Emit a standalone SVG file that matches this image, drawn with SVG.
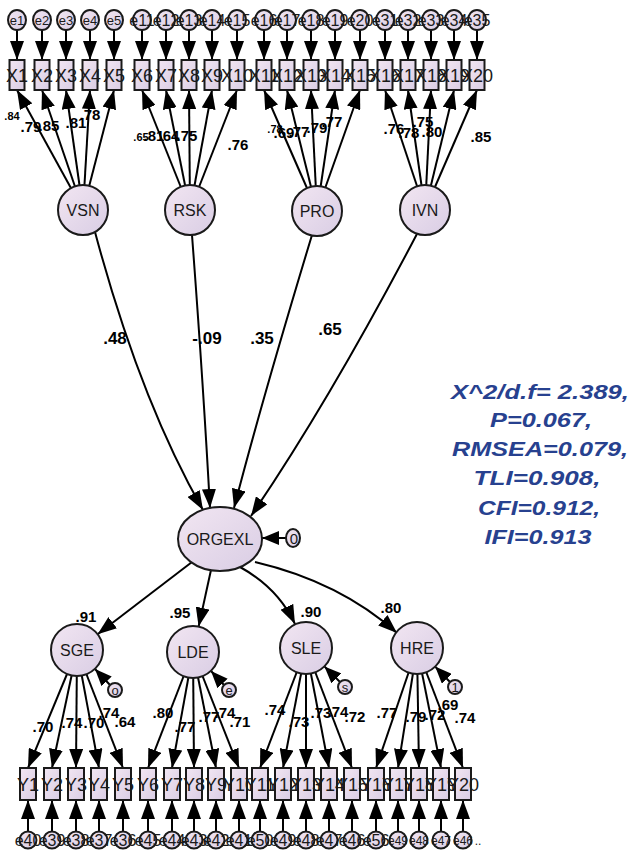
<svg xmlns="http://www.w3.org/2000/svg" width="630" height="851" viewBox="0 0 630 851">
<defs>
<linearGradient id="g" x1="0" y1="0" x2="1" y2="1">
<stop offset="0" stop-color="#f2e6f2"/>
<stop offset="1" stop-color="#d9cde4"/>
</linearGradient>
<marker id="ah" markerUnits="userSpaceOnUse" markerWidth="20" markerHeight="14" refX="19" refY="7" orient="auto">
<path d="M0,0 L19,7 L0,14 z" fill="#000"/>
</marker>
<marker id="as" markerUnits="userSpaceOnUse" markerWidth="18" markerHeight="14" refX="17" refY="7" orient="auto">
<path d="M0,0 L17,7 L0,14 z" fill="#000"/>
</marker>
</defs>
<style>
.c line,.c path{stroke:#000;stroke-width:2;fill:none;marker-end:url(#ah)}
.c .r{marker-end:url(#as)}
.n{fill:url(#g);stroke:#1a1a1a;stroke-width:2}
.t{font-family:"Liberation Sans",Arial,sans-serif;fill:#1a1a1a;text-anchor:middle}
.bx{font-size:18px}
.lat{font-size:16px}
.er{font-size:13px}
.eb{font-size:16px}
.ld{font-family:"Liberation Sans",Arial,sans-serif;font-weight:bold;font-size:15px;fill:#000;text-anchor:middle}
.sm{font-size:11px}
.pl{font-size:17px}
.fit{font-family:"Liberation Sans",Arial,sans-serif;font-weight:bold;font-style:italic;font-size:21px;fill:#27418f;text-anchor:middle}
</style>

<g id="connectors" class="c">
<line x1="17" y1="30" x2="17" y2="60"/><line x1="42" y1="30" x2="42" y2="60"/><line x1="66" y1="30" x2="66" y2="60"/><line x1="90" y1="30" x2="90" y2="60"/><line x1="114" y1="30" x2="114" y2="60"/>
<line x1="142" y1="30" x2="142" y2="60"/><line x1="166" y1="30" x2="166" y2="60"/><line x1="189" y1="30" x2="189" y2="60"/><line x1="212" y1="30" x2="212" y2="60"/><line x1="237" y1="30" x2="237" y2="60"/>
<line x1="264" y1="30" x2="264" y2="60"/><line x1="287" y1="30" x2="287" y2="60"/><line x1="311" y1="30" x2="311" y2="60"/><line x1="335" y1="30" x2="335" y2="60"/><line x1="360" y1="30" x2="360" y2="60"/>
<line x1="385" y1="30" x2="385" y2="60"/><line x1="408" y1="30" x2="408" y2="60"/><line x1="431" y1="30" x2="431" y2="60"/><line x1="454" y1="30" x2="454" y2="60"/><line x1="477" y1="30" x2="477" y2="60"/>
<line x1="83" y1="210" x2="17" y2="90"/><line x1="83" y1="210" x2="42" y2="90"/><line x1="83" y1="210" x2="66" y2="90"/><line x1="83" y1="210" x2="90" y2="90"/><line x1="83" y1="210" x2="114" y2="90"/>
<line x1="190" y1="210" x2="142" y2="90"/><line x1="190" y1="210" x2="166" y2="90"/><line x1="190" y1="210" x2="189" y2="90"/><line x1="190" y1="210" x2="212" y2="90"/><line x1="190" y1="210" x2="237" y2="90"/>
<line x1="317" y1="211" x2="264" y2="90"/><line x1="317" y1="211" x2="287" y2="90"/><line x1="317" y1="211" x2="311" y2="90"/><line x1="317" y1="211" x2="335" y2="90"/><line x1="317" y1="211" x2="360" y2="90"/>
<line x1="425" y1="210" x2="385" y2="90"/><line x1="425" y1="210" x2="408" y2="90"/><line x1="425" y1="210" x2="431" y2="90"/><line x1="425" y1="210" x2="454" y2="90"/><line x1="425" y1="210" x2="477" y2="90"/>
<path d="M95,232 Q140,400 203,510"/>
<path d="M192,235 Q203,380 210,508"/>
<path d="M312,235 Q262,400 234,508"/>
<path d="M418,232 Q330,400 251,516"/>
<line class="r" x1="286" y1="538" x2="262" y2="538"/>
<line x1="192" y1="562" x2="97.6" y2="634.2"/>
<line x1="211" y1="570" x2="198.6" y2="626.6"/>
<path d="M240,567 Q278,588 295,624"/>
<path d="M255,562 Q340,582 397,633"/>
<line class="r" x1="110" y1="685" x2="95" y2="669"/>
<line class="r" x1="224" y1="685" x2="211" y2="671"/>
<line class="r" x1="340" y1="682" x2="324.4" y2="666.4"/>
<line class="r" x1="450" y1="682" x2="435.1" y2="666.6"/>
<line x1="77" y1="650" x2="28" y2="768"/><line x1="77" y1="650" x2="52" y2="768"/><line x1="77" y1="650" x2="76" y2="768"/><line x1="77" y1="650" x2="99" y2="768"/><line x1="77" y1="650" x2="123" y2="768"/>
<line x1="193" y1="652" x2="148" y2="768"/><line x1="193" y1="652" x2="172" y2="768"/><line x1="193" y1="652" x2="194" y2="768"/><line x1="193" y1="652" x2="216" y2="768"/><line x1="193" y1="652" x2="239" y2="768"/>
<line x1="306" y1="648" x2="260" y2="768"/><line x1="306" y1="648" x2="283" y2="768"/><line x1="306" y1="648" x2="306" y2="768"/><line x1="306" y1="648" x2="329" y2="768"/><line x1="306" y1="648" x2="352" y2="768"/>
<line x1="417" y1="648" x2="376" y2="768"/><line x1="417" y1="648" x2="398" y2="768"/><line x1="417" y1="648" x2="419" y2="768"/><line x1="417" y1="648" x2="441" y2="768"/><line x1="417" y1="648" x2="463" y2="768"/>
<line x1="28" y1="831" x2="28" y2="800"/><line x1="52" y1="831" x2="52" y2="800"/><line x1="76" y1="831" x2="76" y2="800"/><line x1="99" y1="831" x2="99" y2="800"/><line x1="123" y1="831" x2="123" y2="800"/>
<line x1="148" y1="831" x2="148" y2="800"/><line x1="172" y1="831" x2="172" y2="800"/><line x1="194" y1="831" x2="194" y2="800"/><line x1="216" y1="831" x2="216" y2="800"/><line x1="239" y1="831" x2="239" y2="800"/>
<line x1="260" y1="831" x2="260" y2="800"/><line x1="283" y1="831" x2="283" y2="800"/><line x1="306" y1="831" x2="306" y2="800"/><line x1="329" y1="831" x2="329" y2="800"/><line x1="352" y1="831" x2="352" y2="800"/>
<line x1="376" y1="831" x2="376" y2="800"/><line x1="398" y1="831" x2="398" y2="800"/><line x1="419" y1="831" x2="419" y2="800"/><line x1="441" y1="831" x2="441" y2="800"/><line x1="463" y1="831" x2="463" y2="800"/>
</g>

<g id="loadings">
<text class="ld sm" x="12" y="120">.84</text>
<text class="ld" x="31" y="132">.79</text>
<text class="ld" x="49" y="131">.85</text>
<text class="ld" x="76" y="128">.81</text>
<text class="ld" x="90" y="120">.78</text>
<text class="ld sm" x="141" y="141">.65</text>
<text class="ld" x="154" y="141">.81</text>
<text class="ld" x="169" y="141">.64</text>
<text class="ld" x="187" y="141">.75</text>
<text class="ld" x="238" y="150">.76</text>
<text class="ld sm" x="275" y="133">.78</text>
<text class="ld" x="284" y="138">.69</text>
<text class="ld" x="299" y="137">.77</text>
<text class="ld" x="317" y="133">.79</text>
<text class="ld" x="332" y="127">.77</text>
<text class="ld" x="394" y="134">.76</text>
<text class="ld" x="409" y="138">.78</text>
<text class="ld" x="423" y="127">.75</text>
<text class="ld" x="432" y="137">.80</text>
<text class="ld" x="481" y="142">.85</text>
<text class="ld pl" x="115" y="344">.48</text>
<text class="ld pl" x="207" y="344">-.09</text>
<text class="ld pl" x="262" y="344">.35</text>
<text class="ld pl" x="330" y="335">.65</text>
<text class="ld" x="86" y="622">.91</text>
<text class="ld" x="180" y="618">.95</text>
<text class="ld" x="311" y="617">.90</text>
<text class="ld" x="391" y="613">.80</text>
<text class="ld" x="43" y="732">.70</text>
<text class="ld" x="72" y="728">.74</text>
<text class="ld" x="94" y="728">.70</text>
<text class="ld" x="109" y="718">.74</text>
<text class="ld" x="125" y="727">.64</text>
<text class="ld" x="163" y="718">.80</text>
<text class="ld" x="185" y="732">.77</text>
<text class="ld" x="209" y="722">.77</text>
<text class="ld" x="225" y="718">.74</text>
<text class="ld" x="240" y="727">.71</text>
<text class="ld" x="275" y="715">.74</text>
<text class="ld" x="299" y="727">.73</text>
<text class="ld" x="321" y="718">.73</text>
<text class="ld" x="338" y="717">.74</text>
<text class="ld" x="355" y="722">.72</text>
<text class="ld" x="387" y="718">.77</text>
<text class="ld" x="416" y="722">.79</text>
<text class="ld" x="435" y="720">.72</text>
<text class="ld" x="448" y="710">.69</text>
<text class="ld" x="465" y="723">.74</text>
</g>

<g id="errors-top">
<ellipse class="n" cx="17" cy="20" rx="9" ry="10"/><text class="t er" x="17" y="25">e1</text>
<ellipse class="n" cx="42" cy="20" rx="9" ry="10"/><text class="t er" x="42" y="25">e2</text>
<ellipse class="n" cx="66" cy="20" rx="9" ry="10"/><text class="t er" x="66" y="25">e3</text>
<ellipse class="n" cx="90" cy="20" rx="9" ry="10"/><text class="t er" x="90" y="25">e4</text>
<ellipse class="n" cx="114" cy="20" rx="9" ry="10"/><text class="t er" x="114" y="25">e5</text>
<ellipse class="n" cx="142" cy="20" rx="9" ry="10"/><text class="t eb" x="142" y="26">e11</text>
<ellipse class="n" cx="166" cy="20" rx="9" ry="10"/><text class="t eb" x="166" y="26">e12</text>
<ellipse class="n" cx="189" cy="20" rx="9" ry="10"/><text class="t eb" x="189" y="26">e13</text>
<ellipse class="n" cx="212" cy="20" rx="9" ry="10"/><text class="t eb" x="212" y="26">e14</text>
<ellipse class="n" cx="237" cy="20" rx="9" ry="10"/><text class="t eb" x="237" y="26">e15</text>
<ellipse class="n" cx="264" cy="20" rx="9" ry="10"/><text class="t eb" x="264" y="26">e16</text>
<ellipse class="n" cx="287" cy="20" rx="9" ry="10"/><text class="t eb" x="287" y="26">e17</text>
<ellipse class="n" cx="311" cy="20" rx="9" ry="10"/><text class="t eb" x="311" y="26">e18</text>
<ellipse class="n" cx="335" cy="20" rx="9" ry="10"/><text class="t eb" x="335" y="26">e19</text>
<ellipse class="n" cx="360" cy="20" rx="9" ry="10"/><text class="t eb" x="360" y="26">e20</text>
<ellipse class="n" cx="385" cy="20" rx="9" ry="10"/><text class="t eb" x="385" y="26">e31</text>
<ellipse class="n" cx="408" cy="20" rx="9" ry="10"/><text class="t eb" x="408" y="26">e32</text>
<ellipse class="n" cx="431" cy="20" rx="9" ry="10"/><text class="t eb" x="431" y="26">e33</text>
<ellipse class="n" cx="454" cy="20" rx="9" ry="10"/><text class="t eb" x="454" y="26">e34</text>
<ellipse class="n" cx="477" cy="20" rx="9" ry="10"/><text class="t eb" x="477" y="26">e35</text>
</g>

<g id="indicators-x">
<rect class="n" x="9.5" y="60" width="15" height="30"/><text class="t bx" x="17" y="82">X1</text>
<rect class="n" x="34.5" y="60" width="15" height="30"/><text class="t bx" x="42" y="82">X2</text>
<rect class="n" x="58.5" y="60" width="15" height="30"/><text class="t bx" x="66" y="82">X3</text>
<rect class="n" x="82.5" y="60" width="15" height="30"/><text class="t bx" x="90" y="82">X4</text>
<rect class="n" x="106.5" y="60" width="15" height="30"/><text class="t bx" x="114" y="82">X5</text>
<rect class="n" x="134.5" y="60" width="15" height="30"/><text class="t bx" x="142" y="82">X6</text>
<rect class="n" x="158.5" y="60" width="15" height="30"/><text class="t bx" x="166" y="82">X7</text>
<rect class="n" x="181.5" y="60" width="15" height="30"/><text class="t bx" x="189" y="82">X8</text>
<rect class="n" x="204.5" y="60" width="15" height="30"/><text class="t bx" x="212" y="82">X9</text>
<rect class="n" x="229.5" y="60" width="15" height="30"/><text class="t bx" x="237" y="82">X10</text>
<rect class="n" x="256.5" y="60" width="15" height="30"/><text class="t bx" x="264" y="82">X11</text>
<rect class="n" x="279.5" y="60" width="15" height="30"/><text class="t bx" x="287" y="82">X12</text>
<rect class="n" x="303.5" y="60" width="15" height="30"/><text class="t bx" x="311" y="82">X13</text>
<rect class="n" x="327.5" y="60" width="15" height="30"/><text class="t bx" x="335" y="82">X14</text>
<rect class="n" x="352.5" y="60" width="15" height="30"/><text class="t bx" x="360" y="82">X15</text>
<rect class="n" x="377.5" y="60" width="15" height="30"/><text class="t bx" x="385" y="82">X16</text>
<rect class="n" x="400.5" y="60" width="15" height="30"/><text class="t bx" x="408" y="82">X17</text>
<rect class="n" x="423.5" y="60" width="15" height="30"/><text class="t bx" x="431" y="82">X18</text>
<rect class="n" x="446.5" y="60" width="15" height="30"/><text class="t bx" x="454" y="82">X19</text>
<rect class="n" x="469.5" y="60" width="15" height="30"/><text class="t bx" x="477" y="82">X20</text>
</g>

<g id="VSN"><circle class="n" cx="83" cy="210" r="25"/><text class="t lat" x="83" y="216">VSN</text></g>
<g id="RSK"><circle class="n" cx="190" cy="210" r="25"/><text class="t lat" x="190" y="216">RSK</text></g>
<g id="PRO"><circle class="n" cx="317" cy="211" r="25"/><text class="t lat" x="317" y="217">PRO</text></g>
<g id="IVN"><circle class="n" cx="425" cy="210" r="25"/><text class="t lat" x="425" y="216">IVN</text></g>

<g id="ORGEXL"><ellipse class="n" cx="220" cy="539" rx="42" ry="32"/><text class="t" style="font-size:16px" x="220" y="545">ORGEXL</text></g>
<g id="ORGEXL-res"><ellipse class="n" cx="293" cy="538" rx="7" ry="9"/><text class="t" style="font-size:15px" x="294" y="544">0</text></g>

<g id="SGE"><circle class="n" cx="77" cy="650" r="26"/><text class="t lat" x="77" y="656">SGE</text></g>
<g id="LDE"><circle class="n" cx="193" cy="652" r="26"/><text class="t lat" x="193" y="658">LDE</text></g>
<g id="SLE"><circle class="n" cx="306" cy="648" r="26"/><text class="t lat" x="306" y="654">SLE</text></g>
<g id="HRE"><circle class="n" cx="417" cy="648" r="26"/><text class="t lat" x="417" y="654">HRE</text></g>

<g id="residuals">
<circle class="n" cx="115" cy="690" r="7"/><text class="t" style="font-size:13px" x="115" y="695">o</text>
<circle class="n" cx="229" cy="690" r="7"/><text class="t" style="font-size:13px" x="229" y="695">e</text>
<circle class="n" cx="345" cy="687" r="7"/><text class="t" style="font-size:13px" x="345" y="692">s</text>
<circle class="n" cx="455" cy="687" r="7"/><text class="t" style="font-size:13px" x="455" y="692">1</text>
</g>

<g id="indicators-y">
<rect class="n" x="20" y="768" width="16" height="32"/><text class="t bx" x="28" y="791">Y1</text>
<rect class="n" x="44" y="768" width="16" height="32"/><text class="t bx" x="52" y="791">Y2</text>
<rect class="n" x="68" y="768" width="16" height="32"/><text class="t bx" x="76" y="791">Y3</text>
<rect class="n" x="91" y="768" width="16" height="32"/><text class="t bx" x="99" y="791">Y4</text>
<rect class="n" x="115" y="768" width="16" height="32"/><text class="t bx" x="123" y="791">Y5</text>
<rect class="n" x="140" y="768" width="16" height="32"/><text class="t bx" x="148" y="791">Y6</text>
<rect class="n" x="164" y="768" width="16" height="32"/><text class="t bx" x="172" y="791">Y7</text>
<rect class="n" x="186" y="768" width="16" height="32"/><text class="t bx" x="194" y="791">Y8</text>
<rect class="n" x="208" y="768" width="16" height="32"/><text class="t bx" x="216" y="791">Y9</text>
<rect class="n" x="231" y="768" width="16" height="32"/><text class="t bx" x="239" y="791">Y10</text>
<rect class="n" x="252" y="768" width="16" height="32"/><text class="t bx" x="260" y="791">Y11</text>
<rect class="n" x="275" y="768" width="16" height="32"/><text class="t bx" x="283" y="791">Y12</text>
<rect class="n" x="298" y="768" width="16" height="32"/><text class="t bx" x="306" y="791">Y13</text>
<rect class="n" x="321" y="768" width="16" height="32"/><text class="t bx" x="329" y="791">Y14</text>
<rect class="n" x="344" y="768" width="16" height="32"/><text class="t bx" x="352" y="791">Y15</text>
<rect class="n" x="368" y="768" width="16" height="32"/><text class="t bx" x="376" y="791">Y16</text>
<rect class="n" x="390" y="768" width="16" height="32"/><text class="t bx" x="398" y="791">Y17</text>
<rect class="n" x="411" y="768" width="16" height="32"/><text class="t bx" x="419" y="791">Y18</text>
<rect class="n" x="433" y="768" width="16" height="32"/><text class="t bx" x="441" y="791">Y19</text>
<rect class="n" x="455" y="768" width="16" height="32"/><text class="t bx" x="463" y="791">Y20</text>
</g>

<g id="errors-bottom">
<circle class="n" cx="28" cy="840" r="8.5"/><text class="t eb" x="28" y="846">e40</text>
<circle class="n" cx="52" cy="840" r="8.5"/><text class="t eb" x="52" y="846">e39</text>
<circle class="n" cx="76" cy="840" r="8.5"/><text class="t eb" x="76" y="846">e38</text>
<circle class="n" cx="99" cy="840" r="8.5"/><text class="t eb" x="99" y="846">e37</text>
<circle class="n" cx="123" cy="840" r="8.5"/><text class="t eb" x="123" y="846">e36</text>
<circle class="n" cx="148" cy="840" r="8.5"/><text class="t eb" x="148" y="846">e45</text>
<circle class="n" cx="172" cy="840" r="8.5"/><text class="t eb" x="172" y="846">e44</text>
<circle class="n" cx="194" cy="840" r="8.5"/><text class="t eb" x="194" y="846">e43</text>
<circle class="n" cx="216" cy="840" r="8.5"/><text class="t eb" x="216" y="846">e42</text>
<circle class="n" cx="239" cy="840" r="8.5"/><text class="t eb" x="239" y="846">e41</text>
<circle class="n" cx="260" cy="840" r="8.5"/><text class="t eb" x="260" y="846">e50</text>
<circle class="n" cx="283" cy="840" r="8.5"/><text class="t eb" x="283" y="846">e49</text>
<circle class="n" cx="306" cy="840" r="8.5"/><text class="t eb" x="306" y="846">e48</text>
<circle class="n" cx="329" cy="840" r="8.5"/><text class="t eb" x="329" y="846">e47</text>
<circle class="n" cx="352" cy="840" r="8.5"/><text class="t eb" x="352" y="846">e46</text>
<circle class="n" cx="376" cy="840" r="8.5"/><text class="t eb" x="376" y="846">e56</text>
<circle class="n" cx="398" cy="840" r="8.5"/><text class="t" style="font-size:12px" x="398" y="845">e49</text>
<circle class="n" cx="419" cy="840" r="8.5"/><text class="t" style="font-size:12px" x="419" y="845">e48</text>
<circle class="n" cx="441" cy="840" r="8.5"/><text class="t" style="font-size:12px" x="441" y="845">e47</text>
<circle class="n" cx="463" cy="840" r="8.5"/><text class="t" style="font-size:12px" x="463" y="845">e46</text>
<text class="t" style="font-size:12px" x="478" y="845">..</text>
</g>

<g id="fit">
<text class="fit" x="540" y="399" textLength="178" lengthAdjust="spacingAndGlyphs">X^2/d.f= 2.389,</text>
<text class="fit" x="541" y="427" textLength="102" lengthAdjust="spacingAndGlyphs">P=0.067,</text>
<text class="fit" x="540" y="456" textLength="176" lengthAdjust="spacingAndGlyphs">RMSEA=0.079,</text>
<text class="fit" x="537" y="485" textLength="127" lengthAdjust="spacingAndGlyphs">TLI=0.908,</text>
<text class="fit" x="539" y="515" textLength="122" lengthAdjust="spacingAndGlyphs">CFI=0.912,</text>
<text class="fit" x="538" y="544" textLength="107" lengthAdjust="spacingAndGlyphs">IFI=0.913</text>
</g>
</svg>
